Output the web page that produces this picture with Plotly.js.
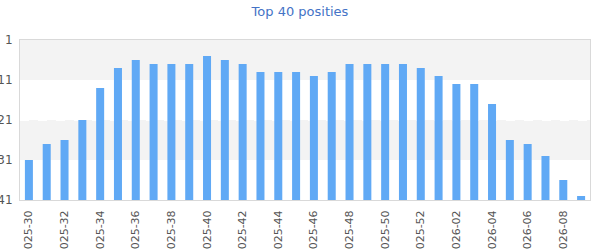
<!DOCTYPE html>
<html>
<head>
<meta charset="utf-8">
<script src="https://cdn.plot.ly/plotly-3.0.1.min.js"></script>
<style>html,body{margin:0;padding:0;background:#fff;}#chart{width:600px;height:250px;}</style>
</head>
<body>
<div id="chart"></div>
<script>
const weeks = [
  "2025-30","2025-31","2025-32","2025-33","2025-34","2025-35","2025-36","2025-37",
  "2025-38","2025-39","2025-40","2025-41","2025-42","2025-43","2025-44","2025-45",
  "2025-46","2025-47","2025-48","2025-49","2025-50","2025-51","2025-52","2026-01",
  "2026-02","2026-03","2026-04","2026-05","2026-06","2026-07","2026-08","2026-09"
];
const positions = [
  31,27,26,21,13,8,6,7,
  7,7,5,6,7,9,9,9,
  10,9,7,7,7,7,8,10,
  12,12,17,26,27,30,36,40
];
const tickLabels = weeks.filter((w, i) => i % 2 === 0);
const yTicks = [1, 11, 21, 31, 41];
const bottomPos = 41;

const trace = {
  type: 'bar',
  x: weeks,
  y: positions.map(p => p - bottomPos),
  base: bottomPos,
  marker: {color: '#60a9f5'},
  hoverinfo: 'skip'
};

const layout = {
  width: 600, height: 250,
  margin: {l: 20, r: 10, t: 40, b: 50},
  paper_bgcolor: '#fff', plot_bgcolor: '#fff',
  font: {family: 'DejaVu Sans, sans-serif', color: '#555'},
  title: {text: 'Top 40 posities', font: {size: 13, color: '#4473c6', family: 'DejaVu Sans, sans-serif'}, x: 0.5, xanchor: 'center', y: 0.955, yanchor: 'middle'},
  bargap: 0.55,
  showlegend: false,
  xaxis: {
    type: 'category',
    tickvals: tickLabels, ticktext: tickLabels,
    tickangle: -90,
    tickfont: {size: 11, color: '#555'},
    showgrid: false, zeroline: false,
    showline: true, mirror: true, linecolor: '#d9d9d9', linewidth: 1,
    automargin: false,
    ticks: 'outside', ticklen: 5, tickcolor: 'rgba(0,0,0,0)'
  },
  yaxis: {
    range: [41, 1],
    tickvals: yTicks,
    tickfont: {size: 12, color: '#555'},
    showgrid: true, gridcolor: '#ffffff', griddash: 'dash', gridwidth: 1,
    zeroline: false,
    showline: true, mirror: true, linecolor: '#d9d9d9', linewidth: 1,
    ticks: 'outside', ticklen: 4, tickcolor: 'rgba(0,0,0,0)',
    automargin: false
  },
  shapes: [
    {type: 'rect', xref: 'paper', yref: 'y', x0: 0, x1: 1, y0: 1, y1: 11, fillcolor: '#f3f3f3', line: {width: 0}, layer: 'below'},
    {type: 'rect', xref: 'paper', yref: 'y', x0: 0, x1: 1, y0: 21, y1: 31, fillcolor: '#f3f3f3', line: {width: 0}, layer: 'below'}
  ]
};

Plotly.newPlot('chart', [trace], layout, {displayModeBar: false, staticPlot: true});
</script>
</body>
</html>
